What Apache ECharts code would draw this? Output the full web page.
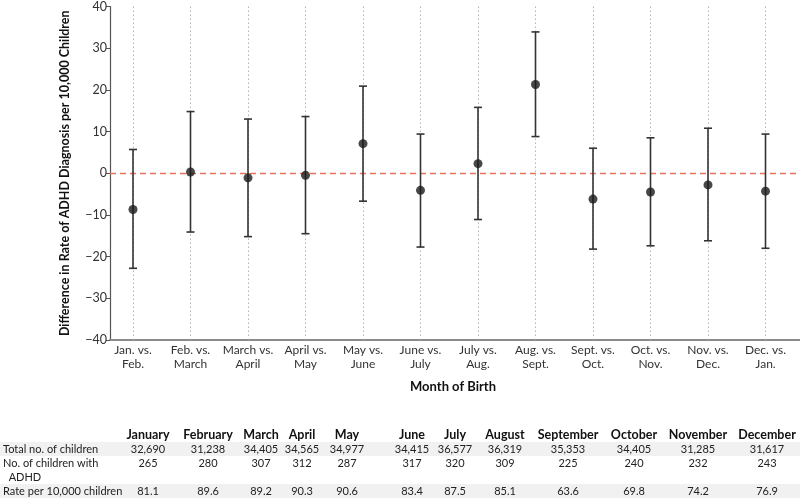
<!DOCTYPE html>
<html>
<head>
<meta charset="utf-8">
<script src="https://cdn.jsdelivr.net/npm/echarts@6/dist/echarts.min.js"></script>
<style>html,body{margin:0;padding:0;background:#fff}#c{width:800px;height:500px}</style>
</head>
<body>
<div id="c"></div>
<script>
// ---- data ----
const comparisons = ['Jan. vs.\nFeb.','Feb. vs.\nMarch','March vs.\nApril','April vs.\nMay','May vs.\nJune','June vs.\nJuly','July vs.\nAug.','Aug. vs.\nSept.','Sept. vs.\nOct.','Oct. vs.\nNov.','Nov. vs.\nDec.','Dec. vs.\nJan.'];
const difference = [-8.7, 0.3, -1.1, -0.5, 7.1, -4.1, 2.3, 21.3, -6.2, -4.5, -2.8, -4.3];
const ciLower = [-22.8, -14.1, -15.2, -14.5, -6.7, -17.7, -11.1, 8.8, -18.2, -17.4, -16.2, -18.0];
const ciUpper = [5.7, 14.8, 13.0, 13.6, 20.9, 9.4, 15.8, 33.9, 6.0, 8.5, 10.8, 9.4];
const yTicks = [-40, -30, -20, -10, 0, 10, 20, 30, 40];

const months = ['January','February','March','April','May','June','July','August','September','October','November','December'];
const totalChildren = ['32,690','31,238','34,405','34,565','34,977','34,415','36,577','36,319','35,353','34,405','31,285','31,617'];
const adhdChildren = ['265','280','307','312','287','317','320','309','225','240','232','243'];
const ratePer10000 = ['81.1','89.6','89.2','90.3','90.6','83.4','87.5','85.1','63.6','69.8','74.2','76.9'];
const rowLabels = ['Total no. of children', 'No. of children with', '  ADHD', 'Rate per 10,000 children'];

// ---- layout (positions/styles) ----
const colX = [148, 208, 261, 302, 347, 412, 455, 505, 568, 634, 698, 767];
const FONT = 'Lato';
const TXT = '#222';

const chart = echarts.init(document.getElementById('c'), null, {renderer:'canvas'});

const graphics = [];
graphics.push({type:'rect', shape:{x:0, y:442, width:800, height:14}, style:{fill:'#f1f1f1'}, silent:true, z:0});
graphics.push({type:'rect', shape:{x:0, y:484, width:800, height:14}, style:{fill:'#f1f1f1'}, silent:true, z:0});
months.forEach((m,i)=>{
  graphics.push({type:'text', x:colX[i], y:435, style:{text:m, font:'bold 12.5px '+FONT, fill:'#111', align:'center', verticalAlign:'middle'}, z:2});
  graphics.push({type:'text', x:colX[i], y:449, style:{text:totalChildren[i], font:'11px '+FONT, fill:TXT, align:'center', verticalAlign:'middle'}, z:2});
  graphics.push({type:'text', x:colX[i], y:463, style:{text:adhdChildren[i], font:'11px '+FONT, fill:TXT, align:'center', verticalAlign:'middle'}, z:2});
  graphics.push({type:'text', x:colX[i], y:491, style:{text:ratePer10000[i], font:'11px '+FONT, fill:TXT, align:'center', verticalAlign:'middle'}, z:2});
});
const rowY = [449, 463, 477, 491];
rowLabels.forEach((t,i)=>{
  graphics.push({type:'text', x:3, y:rowY[i], style:{text:t, font:'11px '+FONT, fill:TXT, align:'left', verticalAlign:'middle'}, z:2});
});

const idx = comparisons.map((c,i)=>i);
const vLines = idx.map(i=>({xAxis:i, lineStyle:{color:'#b5b5b5', type:[1.5,2.5], width:1}}));
vLines.push({yAxis:0, lineStyle:{color:'#e8735a', type:[6,4], width:1.3}});

const option = {
  animation:false,
  backgroundColor:'#fff',
  textStyle:{fontFamily:FONT},
  grid:{left:110, right:-4, top:5, bottom:160, containLabel:false},
  xAxis:{
    type:'value', min:-0.4, max:11.6, interval:0.2,
    name:'Month of Birth', nameLocation:'middle', nameGap:40,
    nameTextStyle:{fontFamily:FONT, fontWeight:'bold', fontSize:13, color:'#111', padding:[0,0,0,-4]},
    axisLine:{show:true, onZero:false, lineStyle:{color:'#8a8a8a', width:2}},
    axisTick:{show:false},
    splitLine:{show:false},
    axisLabel:{
      showMinLabel:false, showMaxLabel:false,
      fontFamily:FONT, fontSize:12, color:'#333', lineHeight:14, margin:3,
      formatter:(v)=>{
        const r = Math.round(v);
        return (Math.abs(v-r)<1e-6 && r>=0 && r<comparisons.length) ? comparisons[r] : '';
      }
    }
  },
  yAxis:{
    type:'value', min:yTicks[0], max:yTicks[yTicks.length-1], interval:10,
    name:'Difference in Rate of ADHD Diagnosis per 10,000 Children', nameLocation:'middle', nameGap:39,
    nameTextStyle:{fontFamily:FONT, fontWeight:'bold', fontSize:12.5, color:'#111'},
    axisLine:{show:true, onZero:false, lineStyle:{color:'#555', width:1.2}},
    axisTick:{show:true, length:4, lineStyle:{color:'#555'}},
    splitLine:{show:false},
    axisLabel:{fontFamily:FONT, fontSize:12.5, color:'#333', margin:3,
      formatter:(v)=> v<0 ? '\u2212'+Math.abs(v) : String(v)}
  },
  graphic:graphics,
  series:[
    {
      type:'custom',
      z:3,
      data: idx.map(i=>[i, ciLower[i], ciUpper[i]]),
      renderItem:(params, api)=>{
        const x = api.value(0);
        const lo = api.coord([x, api.value(1)]);
        const hi = api.coord([x, api.value(2)]);
        const w = 4;
        const st = {stroke:'#333', lineWidth:1.6};
        return {type:'group', children:[
          {type:'line', shape:{x1:hi[0], y1:hi[1], x2:lo[0], y2:lo[1]}, style:st},
          {type:'line', shape:{x1:hi[0]-w, y1:hi[1], x2:hi[0]+w, y2:hi[1]}, style:st},
          {type:'line', shape:{x1:lo[0]-w, y1:lo[1], x2:lo[0]+w, y2:lo[1]}, style:st}
        ]};
      },
      markLine:{silent:true, symbol:'none', label:{show:false}, z:1, data:vLines}
    },
    {
      type:'scatter', z:4,
      symbol:'circle', symbolSize:9,
      itemStyle:{color:'#1a1a1a'},
      data: idx.map(i=>[i, difference[i]])
    }
  ]
};
chart.setOption(option);
</script>
</body>
</html>
